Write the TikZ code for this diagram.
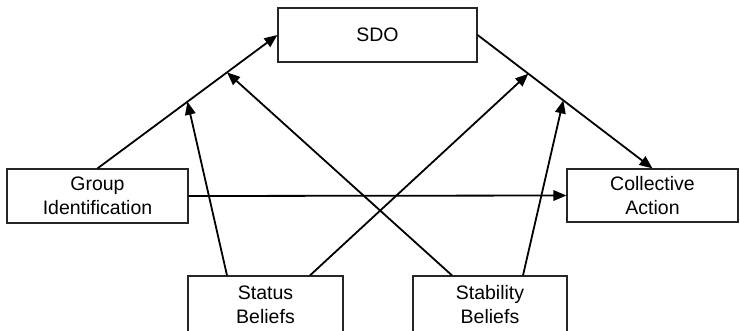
\documentclass[tikz,border=0pt]{standalone}
\usepackage{fontspec}
\setmainfont{Liberation Sans}
\usetikzlibrary{arrows.meta,calc}
\begin{document}
\begin{tikzpicture}[x=1pt,y=-1pt,
  box/.style={draw=black!85,line width=1.2pt,fill=white,rectangle,inner sep=0pt,
    align=center,font=\fontsize{19.5}{24}\selectfont},
  link/.style={line width=1.8pt,-{Triangle[length=13pt,width=10.5pt]}}]
  \useasboundingbox (0,0) rectangle (740,330);
  \clip (0,0) rectangle (740,330);
  \fill[white] (0,0) rectangle (740,330);

  % constructs
  \node[box,minimum width=199pt,minimum height=54pt] (sdo) at (377.5,35) {SDO};
  \node[box,minimum width=181pt,minimum height=54pt] (gi) at (97.5,196) {Group\\Identification};
  \node[box,minimum width=171pt,minimum height=53pt] (ca) at (652.5,195.5) {Collective\\Action};
  \node[box,minimum width=155pt,minimum height=58pt] (status) at (265.5,305) {Status\\Beliefs};
  \node[box,minimum width=154pt,minimum height=58pt] (stab) at (490,305) {Stability\\Beliefs};

  % main paths
  \draw[link] (gi.north) -- (sdo.west);
  \draw[link] (sdo.east) -- (ca.north);
  \draw[link] (gi.east) -- (ca.west);

  % points on the main paths where the moderators act
  \coordinate (m1) at ($(gi.north)!0.50!(sdo.west)$);
  \coordinate (m2) at ($(gi.north)!0.72!(sdo.west)$);
  \coordinate (m3) at ($(sdo.east)!0.29!(ca.north)$);
  \coordinate (m4) at ($(sdo.east)!0.49!(ca.north)$);

  % moderator start points on the bottom boxes
  \coordinate (s1) at ($(status.north)+(-38.5,0)$);
  \coordinate (s2) at ($(status.north)+(44.5,0)$);
  \coordinate (t1) at ($(stab.north)+(-38,0)$);
  \coordinate (t2) at ($(stab.north)+(33,0)$);

  \draw[link] (s1) -- (m1);
  \draw[link] (s2) -- (m3);
  \draw[link] (t1) -- (m2);
  \draw[link] (t2) -- (m4);
\end{tikzpicture}
\end{document}
